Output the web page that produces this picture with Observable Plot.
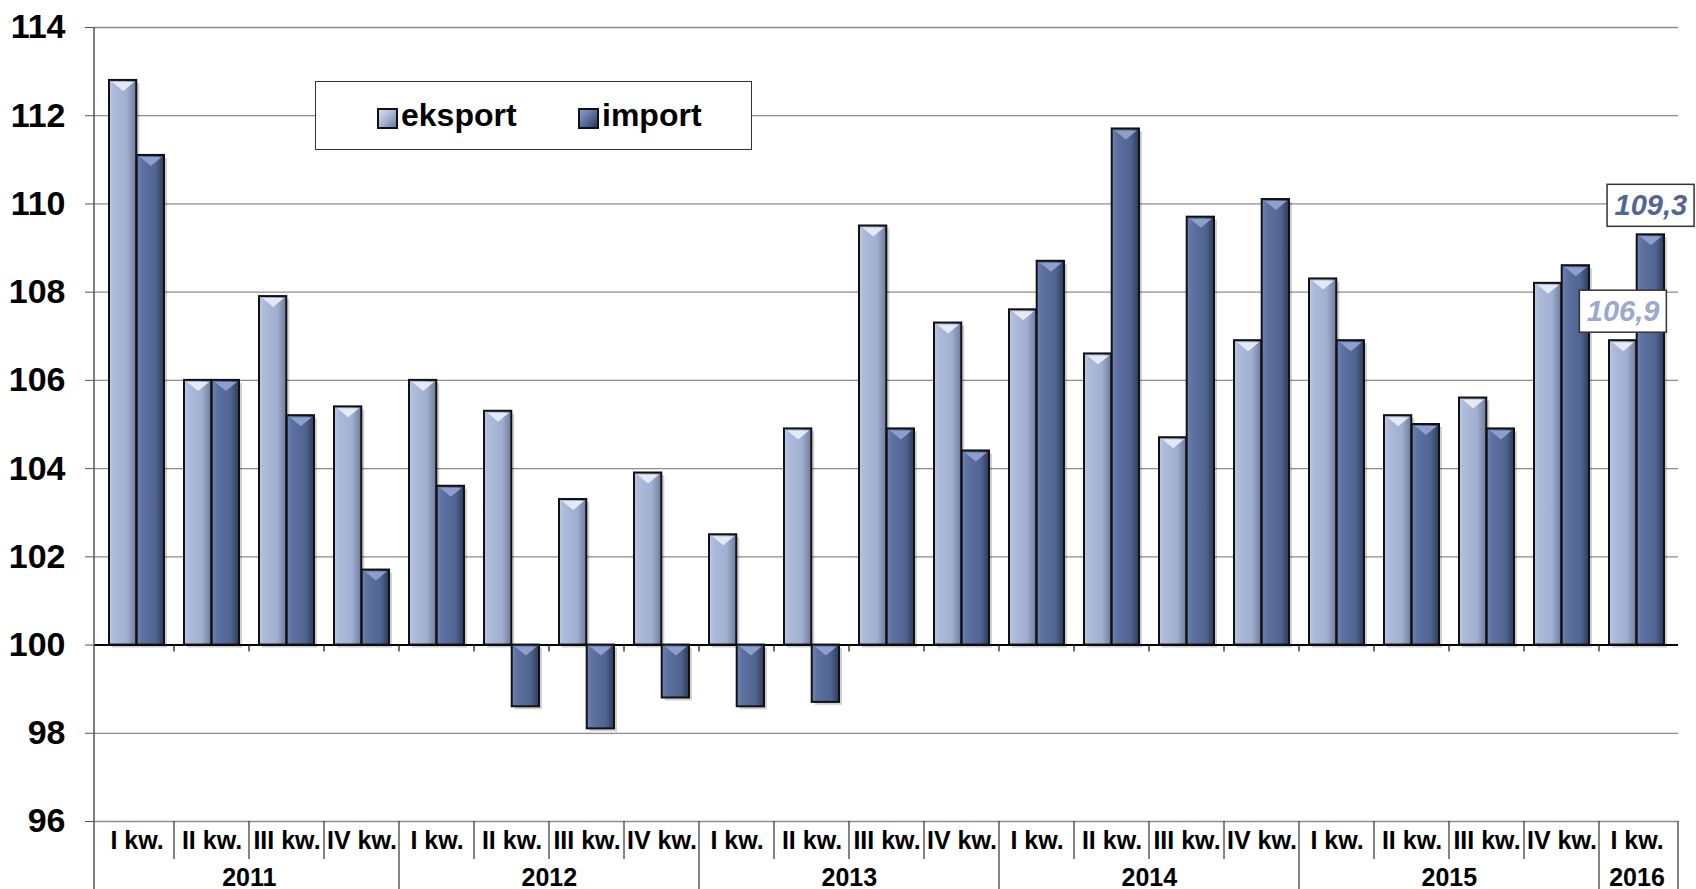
<!DOCTYPE html>
<html><head><meta charset="utf-8">
<script src="https://cdn.jsdelivr.net/npm/d3@7"></script>
<script src="https://cdn.jsdelivr.net/npm/@observablehq/plot@0.6"></script>
<style>
body{margin:0;background:#fff;font-family:"Liberation Sans",Arial,sans-serif;}
#wrap{position:relative;width:1696px;height:889px;overflow:hidden;}
#legend{position:absolute;left:315px;top:81px;width:435px;height:67px;border:1.5px solid #333;background:#fff;}
#legend .sw{position:absolute;top:26px;width:17px;height:17px;border:2px solid #111;}
#legend .tx{position:absolute;top:17px;font-size:32px;font-weight:bold;line-height:32px;color:#000;}
</style></head>
<body><div id="wrap"></div>
<script>
const years    = ["2011","2011","2011","2011","2012","2012","2012","2012","2013","2013","2013","2013","2014","2014","2014","2014","2015","2015","2015","2015","2016"];
const quarters = ["I kw.","II kw.","III kw.","IV kw.","I kw.","II kw.","III kw.","IV kw.","I kw.","II kw.","III kw.","IV kw.","I kw.","II kw.","III kw.","IV kw.","I kw.","II kw.","III kw.","IV kw.","I kw."];
const eksport  = [112.8,106.0,107.9,105.4, 106.0,105.3,103.3,103.9, 102.5,104.9,109.5,107.3, 107.6,106.6,104.7,106.9, 108.3,105.2,105.6,108.2, 106.9];
const importV  = [111.1,106.0,105.2,101.7, 103.6,98.6,98.1,98.8, 98.6,98.7,104.9,104.4, 108.7,111.7,109.7,110.1, 106.9,105.0,104.9,108.6, 109.3];
const yTicks   = [96,98,100,102,104,106,108,110,112,114];
const seriesNames = ["eksport","import"];
const labelText = ["106,9","109,3"];

const W = 1696, H = 889, ML = 94, MR = 18, MT = 27, MB = 68;
const keys = years.map((y,i)=> y + "|" + i);
const rows = keys.map((k,i)=>({key:k, year:years[i], q:quarters[i], eksport:eksport[i], import:importV[i]}));
const bw = (W - ML - MR) / keys.length;
const inOuter = 10, barW = (bw - 2*inOuter)/2;
const inInner = inOuter + barW;

const bevel = { draw(ctx){ ctx.moveTo(-barW/2+3,0); ctx.lineTo(barW/2-3,0); ctx.lineTo(0,9); ctx.closePath(); } };

const last = rows[rows.length-1];
const labE = [{key:last.key, v:last.eksport, t:labelText[0]}];
const labI = [{key:last.key, v:last.import, t:labelText[1]}];
const LDY = -29;

const yearGroups = d3.groups(rows, d=>d.year).map(([y,arr])=>({year:y, n:arr.length, anchor:arr[Math.min(arr.length-1, Math.floor(arr.length/2))].key}));

const plot = Plot.plot({
  width: W, height: H,
  marginLeft: ML, marginRight: MR, marginTop: MT, marginBottom: MB,
  style: {fontFamily: '"Liberation Sans", Arial, sans-serif', color:"#000", background:"#fff"},
  x: {domain: keys, padding: 0, axis: null},
  y: {domain: [96,114], axis: null},
  marks: [
    Plot.ruleY(yTicks.filter(t=>t!==100), {stroke:"#8c8c8c", strokeWidth:1.3}),
    Plot.barY(rows, {x:"key", y1:100, y2:"eksport", insetLeft:inOuter+3, insetRight:inInner-3, fill:"#000", fillOpacity:0.18, dy:3}),
    Plot.barY(rows, {x:"key", y1:100, y2:"import", insetLeft:inInner+3, insetRight:inOuter-3, fill:"#000", fillOpacity:0.18, dy:3}),
    Plot.ruleY([100], {stroke:"#000", strokeWidth:2}),
    Plot.barY(rows, {x:"key", y1:100, y2:"eksport", insetLeft:inOuter, insetRight:inInner, fill:"url(#gE)", stroke:"#111", strokeWidth:2}),
    Plot.barY(rows, {x:"key", y1:100, y2:"import", insetLeft:inInner, insetRight:inOuter, fill:"url(#gI)", stroke:"#111", strokeWidth:2}),
    Plot.dot(rows, {x:"key", y:d=>Math.max(d.eksport,100), dx:-(barW/2), dy:1.5, symbol:bevel, fill:"#e4e9f6", stroke:"none", r:5}),
    Plot.dot(rows, {x:"key", y:d=>Math.max(d.import,100), dx:(barW/2), dy:1.5, symbol:bevel, fill:"#8d9fcc", stroke:"none", r:5}),
    Plot.axisY({ticks: yTicks, tickSize: 9, tickPadding: 20, fontSize: 34, fontWeight: "bold", stroke:"#555", fill:"#000", tickFormat: d=>String(d)}),
    Plot.axisX({tickSize: 0, tickPadding: 10, fontSize: 25, fontWeight: "bold", fill:"#000", tickFormat: k => rows.find(r=>r.key===k).q}),
    Plot.text(yearGroups.filter(g=>g.n>1), {x:"anchor", text:"year", frameAnchor:"bottom", lineAnchor:"middle", dy:56, dx:-bw/2, fontSize:25, fontWeight:"bold", fill:"#000"}),
    Plot.text(yearGroups.filter(g=>g.n===1), {x:"anchor", text:"year", frameAnchor:"bottom", lineAnchor:"middle", dy:56, fontSize:25, fontWeight:"bold", fill:"#000"}),
    Plot.text(labE, {x:"key", y:"v", text:"t", dx:-(barW/2), dy:LDY, fontSize:29, fontWeight:"bold", fontStyle:"italic", fill:"#9aa9cc"}),
    Plot.text(labI, {x:"key", y:"v", text:"t", dx:(barW/2), dy:LDY, fontSize:29, fontWeight:"bold", fontStyle:"italic", fill:"#526594"})
  ]
});

document.getElementById("wrap").appendChild(plot);
const svg = d3.select(plot);
const xs = plot.scale("x"), ys = plot.scale("y");

const defs = svg.insert("defs", ":first-child");
function grad(id, stops){
  const g = defs.append("linearGradient").attr("id", id).attr("x1",0).attr("x2",1).attr("y1",0).attr("y2",0);
  stops.forEach(([o,c])=>g.append("stop").attr("offset",o).attr("stop-color",c));
}
grad("gE", [[0,"#c0cae4"],[0.15,"#aebbdb"],[0.65,"#a1afd0"],[1,"#6e7b9c"]]);
grad("gI", [[0,"#6f83b2"],[0.2,"#5d72a2"],[0.7,"#506490"],[1,"#2e3a5b"]]);

// boxes behind the value labels, positioned from the scales
const textGroups = Array.from(plot.querySelectorAll("g")).filter(g => g.querySelector("text") && labelText.includes(g.textContent.trim()));
const firstLabel = textGroups[0];
[[labE[0], -(barW/2)], [labI[0], (barW/2)]].forEach(([d, off])=>{
  const cx = xs.apply(d.key) + bw/2 + off;
  const cy = ys.apply(d.v) + LDY;
  const bwid = 87, bh = 42;
  const r = document.createElementNS("http://www.w3.org/2000/svg","rect");
  r.setAttribute("x", cx - bwid/2); r.setAttribute("y", cy - bh/2);
  r.setAttribute("width", bwid); r.setAttribute("height", bh);
  r.setAttribute("fill","#fff"); r.setAttribute("stroke","#333"); r.setAttribute("stroke-width","1.5");
  plot.insertBefore(r, firstLabel);
});

// axis line & dividers
const x0 = ML, x1 = W - MR, yb = ys.apply(96), y100 = ys.apply(100), yt = ys.apply(114);
const g = document.createElementNS("http://www.w3.org/2000/svg","g");
plot.insertBefore(g, firstLabel);
const G = d3.select(g);
G.append("line").attr("x1",x0).attr("x2",x0).attr("y1",yt).attr("y2",H).attr("stroke","#555").attr("stroke-width",1.5);
keys.forEach((k,i)=>{
  if(i===0) return;
  const bx = xs.apply(k);
  const newYear = rows[i].year !== rows[i-1].year;
  G.append("line").attr("x1",bx).attr("x2",bx).attr("y1",yb).attr("y2", newYear ? H : yb+38).attr("stroke","#333").attr("stroke-width",1.2);
  G.append("line").attr("x1",bx).attr("x2",bx).attr("y1",y100).attr("y2",y100+7).attr("stroke","#222").attr("stroke-width",1.3);
});
G.append("line").attr("x1",x1).attr("x2",x1).attr("y1",yb).attr("y2",H).attr("stroke","#333").attr("stroke-width",1.2);

// legend
const lg = d3.select("#wrap").append("div").attr("id","legend");
const legendItems = [{name:seriesNames[0], left:61, bg:"linear-gradient(135deg,#d7def0 0%,#a8b5d6 50%,#6e7b9c 100%)"},
                     {name:seriesNames[1], left:262, bg:"linear-gradient(135deg,#8d9fcc 0%,#5a6e9e 50%,#2e3a5b 100%)"}];
legendItems.forEach(it=>{
  lg.append("div").attr("class","sw").style("left", it.left+"px").style("background", it.bg);
  lg.append("div").attr("class","tx").style("left", (it.left+24)+"px").text(it.name);
});
</script></body></html>
